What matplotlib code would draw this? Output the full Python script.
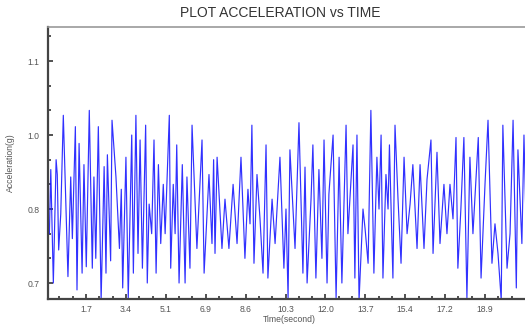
import matplotlib
matplotlib.use("Agg")
import matplotlib.pyplot as plt
from matplotlib.ticker import FixedLocator

# ---- data (time in seconds, acceleration in g) ----
time_s = [0.14, 0.20, 0.31, 0.43, 0.48, 0.54, 0.63, 0.74, 0.94, 1.06, 1.13, 1.26, 1.33, 1.42,
          1.55, 1.63, 1.73, 1.86, 1.99, 2.06, 2.14, 2.25, 2.37, 2.50, 2.58, 2.64, 2.78, 2.84,
          3.01, 3.16, 3.24, 3.30, 3.44, 3.54, 3.69, 3.76, 3.87, 3.96, 4.05, 4.15, 4.29, 4.36,
          4.44, 4.55, 4.65, 4.74, 4.84, 4.94, 5.05, 5.13, 5.31, 5.37, 5.48, 5.56, 5.63, 5.73,
          5.87, 5.99, 6.07, 6.20, 6.29, 6.38, 6.50, 6.72, 6.81, 7.02, 7.15, 7.22, 7.28, 7.37,
          7.58, 7.71, 7.88, 8.06, 8.23, 8.40, 8.57, 8.70, 8.79, 8.87, 8.96, 9.09, 9.22, 9.35,
          9.48, 9.56, 9.74, 9.87, 10.08, 10.25, 10.34, 10.43, 10.51, 10.73, 10.90, 11.07,
          11.16, 11.25, 11.42, 11.50, 11.63, 11.76, 11.89, 11.98, 12.11, 12.19, 12.37, 12.50,
          12.63, 12.75, 12.93, 13.01, 13.23, 13.31, 13.40, 13.49, 13.66, 13.75, 13.88, 14.00,
          14.13, 14.26, 14.35, 14.44, 14.52, 14.65, 14.74, 14.80, 14.95, 15.04, 15.17, 15.30,
          15.43, 15.56, 15.69, 15.81, 15.99, 16.12, 16.29, 16.42, 16.59, 16.68, 16.85, 16.98,
          17.15, 17.28, 17.41, 17.54, 17.67, 17.75, 17.88, 18.01, 18.14, 18.27, 18.40, 18.63,
          18.75, 18.92, 19.05, 19.22, 19.35, 19.48, 19.62, 19.69, 19.87, 20.00, 20.13, 20.27,
          20.34, 20.51, 20.60, 20.70]
accel_g = [0.80, 0.93, 0.70, 0.95, 0.92, 0.767, 0.84, 1.04, 0.713, 0.915, 0.79, 1.017, 0.686, 0.983,
           0.72, 0.94, 0.733, 1.05, 0.73, 0.915, 0.75, 1.017, 0.665, 0.936, 0.72, 0.96, 0.745, 1.03,
           0.915, 0.77, 0.89, 0.69, 0.955, 0.67, 1.00, 0.72, 1.04, 0.76, 0.99, 0.73, 1.02, 0.70,
           0.86, 0.80, 0.99, 0.72, 0.94, 0.78, 0.90, 0.80, 1.04, 0.73, 0.90, 0.80, 0.98, 0.70,
           0.94, 0.70, 0.915, 0.73, 1.02, 0.915, 0.77, 0.99, 0.72, 0.92, 0.78, 0.95, 0.76, 0.955,
           0.77, 0.87, 0.77, 0.90, 0.78, 0.955, 0.75, 0.89, 0.82, 1.02, 0.74, 0.92, 0.83, 0.72,
           0.98, 0.71, 0.87, 0.78, 0.955, 0.73, 0.85, 0.67, 0.97, 0.77, 1.025, 0.72,
           0.935, 0.70, 0.87, 0.98, 0.71, 0.93, 0.75, 0.99, 0.70, 0.88, 1.00, 0.67,
           0.955, 0.70, 1.02, 0.80, 0.98, 0.71, 1.00, 0.665, 0.85, 0.81, 0.74, 1.05,
           0.72, 0.955, 0.85, 1.00, 0.71, 0.92, 0.85, 0.98, 0.71, 1.02, 0.87, 0.74,
           0.955, 0.80, 0.86, 0.94, 0.77, 0.94, 0.77, 0.91, 0.99, 0.76, 0.965, 0.78,
           0.90, 0.80, 0.90, 0.83, 0.995, 0.73, 0.85, 0.995, 0.67, 0.955, 0.80, 0.995,
           0.71, 0.90, 1.03, 0.74, 0.82, 0.76, 0.665, 1.02, 0.73, 0.80, 1.03, 0.69,
           0.97, 0.78, 1.00, 0.80]

x_major = [1.72, 3.44, 5.16, 6.88, 8.60, 10.32, 12.04, 13.76, 15.48, 17.20, 18.92]
x_labels = ["1.7", "3.4", "5.1", "6.9", "8.6", "10.3", "12.0", "13.7", "15.4", "17.2", "18.9"]
y_major = [0.70, 0.85, 1.00, 1.15]
y_labels = ["0.7", "0.8", "1.0", "1.1"]

plt.rcParams['font.family'] = ['Liberation Sans', 'DejaVu Sans']

fig = plt.figure(figsize=(5.25, 3.24), dpi=100)
ax = fig.add_axes([48/525, 25/324, 482/525, 272/324])

ax.plot(time_s, accel_g, color='#1a1aff', lw=0.85, alpha=0.9)

ax.set_xlim(0.08, 20.86)
ax.set_ylim(0.6676, 1.219)

ax.xaxis.set_major_locator(FixedLocator(x_major))
ax.set_xticklabels(x_labels)
minor_x = [k * 1.72 / 3 for k in range(1, 37) if k % 3 != 0]
ax.xaxis.set_minor_locator(FixedLocator(minor_x))
ax.yaxis.set_major_locator(FixedLocator(y_major))
ax.set_yticklabels(y_labels)
ax.yaxis.set_minor_locator(FixedLocator([0.75, 0.80, 0.90, 0.95, 1.05, 1.10, 1.20]))

ax.tick_params(which='both', direction='in', color='#333333', width=1.2,
               labelsize=6.2, labelcolor='#555555')
ax.tick_params(which='major', length=3.5)
ax.tick_params(which='minor', length=2.5)
ax.tick_params(axis='x', pad=4)
ax.tick_params(axis='y', pad=6)

for side in ['left', 'bottom']:
    ax.spines[side].set_color('#444444')
    ax.spines[side].set_linewidth(1.6)
ax.spines['top'].set_color('#999999')
ax.spines['top'].set_linewidth(1.2)
ax.spines['right'].set_visible(False)

ax.set_xlabel('Time(second)', fontsize=6.2, color='#555555', labelpad=1)
ax.set_ylabel('Acceleration(g)', fontsize=6.2, color='#555555', labelpad=9)

fig.text(280/525, 1 - 13/324, 'PLOT ACCELERATION vs TIME', ha='center', va='center',
         fontsize=10, color='#333333')

fig.savefig('out.png', dpi=100)
